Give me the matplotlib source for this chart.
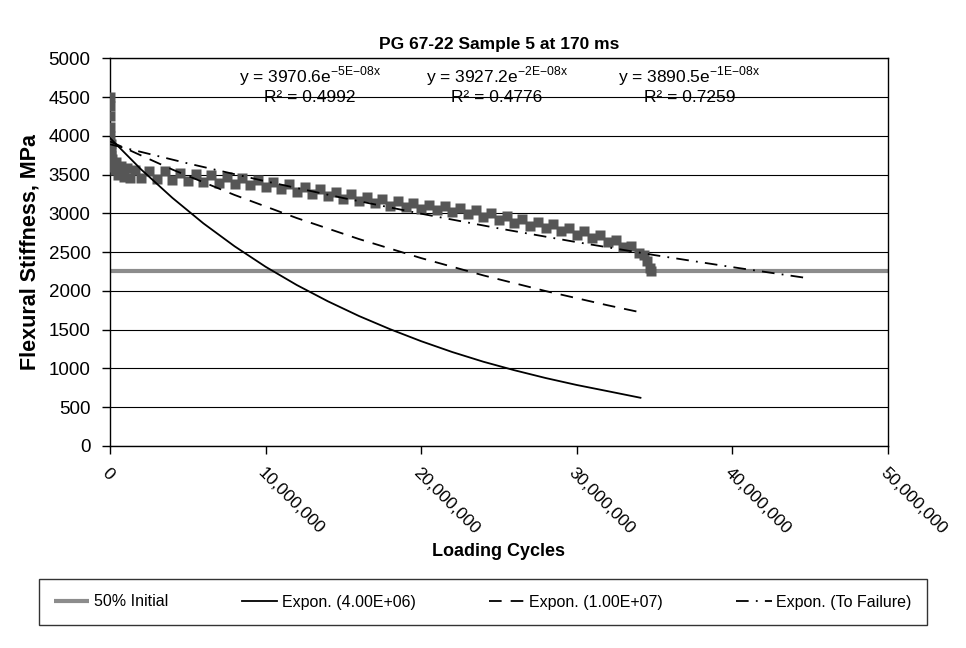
import matplotlib
matplotlib.use("Agg")
import matplotlib.pyplot as plt
from matplotlib.ticker import FuncFormatter

# measured stiffness (cycles in millions, MPa)
cycles_m = [0.0, 0.0, 0.0, 0.01, 0.02, 0.03, 0.05, 0.07, 0.1, 0.15, 0.2, 0.3, 0.4, 0.5,
            0.7, 0.9, 1.1, 1.3, 1.6, 2.0, 2.5, 3.0, 3.5, 4.0, 4.5, 5.0, 5.5, 6.0, 6.5,
            7.0, 7.5, 8.0, 8.5, 9.0, 9.5, 10.0, 10.5, 11.0, 11.5, 12.0, 12.5, 13.0,
            13.5, 14.0, 14.5, 15.0, 15.5, 16.0, 16.5, 17.0, 17.5, 18.0, 18.5, 19.0,
            19.5, 20.0, 20.5, 21.0, 21.5, 22.0, 22.5, 23.0, 23.5, 24.0, 24.5, 25.0,
            25.5, 26.0, 26.5, 27.0, 27.5, 28.0, 28.5, 29.0, 29.5, 30.0, 30.5, 31.0,
            31.5, 32.0, 32.5, 33.0, 33.5, 34.0, 34.3, 34.5, 34.7, 34.8]
stiffness = [4500, 4380, 4250, 4120, 4000, 3900, 3820, 3750, 3700, 3640, 3600, 3560, 3660,
             3500, 3610, 3470, 3580, 3460, 3560, 3450, 3550, 3440, 3540, 3430, 3520,
             3420, 3510, 3410, 3490, 3390, 3470, 3380, 3460, 3360, 3430, 3340, 3400,
             3310, 3380, 3280, 3340, 3250, 3310, 3220, 3280, 3190, 3250, 3160, 3210,
             3130, 3180, 3100, 3160, 3080, 3130, 3060, 3110, 3040, 3090, 3020, 3070,
             2990, 3040, 2950, 3000, 2910, 2970, 2870, 2930, 2840, 2890, 2810, 2860,
             2770, 2810, 2720, 2770, 2680, 2720, 2630, 2660, 2560, 2580, 2490, 2460,
             2380, 2300, 2250]

# 50% of initial stiffness
half_initial = 2250
half_x = [0, 50]

# exponential trendlines
fit4_x = [0, 2, 4, 6, 8, 10, 12, 14, 16, 18, 20, 22, 24, 26, 28, 30, 32, 34.1]
fit4_y = [3970, 3565, 3200, 2870, 2575, 2310, 2075, 1865, 1675, 1505, 1350, 1210,
          1085, 975, 875, 785, 705, 620]
fit10_x = [0, 4, 8, 12, 16, 20, 24, 28, 32, 34.0]
fit10_y = [3927, 3565, 3237, 2939, 2668, 2422, 2199, 1997, 1813, 1727]
fitfail_x = [0, 5, 10, 15, 20, 25, 30, 35, 40, 44.8]
fitfail_y = [3890, 3644, 3413, 3197, 2995, 2805, 2628, 2461, 2306, 2165]

equations = ["y = 3970.6e$^{\\mathregular{{-}5E{-}08x}}$",
             "y = 3927.2e$^{\\mathregular{{-}2E{-}08x}}$",
             "y = 3890.5e$^{\\mathregular{{-}1E{-}08x}}$"]
r_squared = ["R\u00b2 = 0.4992", "R\u00b2 = 0.4776", "R\u00b2 = 0.7259"]

plt.rcParams['font.family'] = ['Liberation Sans', 'DejaVu Sans']
plt.rcParams['mathtext.fontset'] = 'custom'
plt.rcParams['mathtext.rm'] = 'Liberation Sans'
plt.rcParams['axes.unicode_minus'] = False

fig = plt.figure(figsize=(9.66, 6.48), dpi=100)
ax = fig.add_axes([0.114, 0.312, 0.805, 0.598])

m = 1e6
ax.plot([v * m for v in half_x], [half_initial] * 2, color='#8c8c8c', lw=3,
        label='50% Initial', zorder=2, solid_capstyle='butt')
ax.plot([v * m for v in cycles_m], stiffness, 's', color='#565656', ms=7.5,
        mec='none', zorder=3)
ax.plot([v * m for v in fit4_x], fit4_y, color='black', lw=1.3,
        label='Expon. (4.00E+06)', zorder=4)
ax.plot([v * m for v in fit10_x], fit10_y, color='black', lw=1.3,
        ls=(0, (7, 5)), label='Expon. (1.00E+07)', zorder=4)
ax.plot([v * m for v in fitfail_x], fitfail_y, color='black', lw=1.3,
        ls=(0, (7, 4, 1, 4)), label='Expon. (To Failure)', zorder=4)

ax.set_xlim(0, 50e6)
ax.set_ylim(0, 5000)
ax.set_yticks(range(0, 5001, 500))
ax.set_xticks([0, 10e6, 20e6, 30e6, 40e6, 50e6])
ax.xaxis.set_major_formatter(FuncFormatter(lambda v, p: f"{int(v):,}"))
ax.yaxis.grid(True, color='black', lw=0.8)
ax.set_axisbelow(True)
for s in ax.spines.values():
    s.set_color('black')
    s.set_linewidth(1)
ax.tick_params(axis='both', direction='out', length=6, width=1, labelsize=13.5)
ax.tick_params(axis='y', pad=8)
ax.tick_params(axis='x', pad=8, labelsize=12.5)
for lbl in ax.get_xticklabels():
    lbl.set_rotation(-45)
    lbl.set_ha('left')
    lbl.set_va('top')
    lbl.set_rotation_mode('anchor')

ax.set_title('PG 67-22 Sample 5 at 170 ms', fontsize=12.5, fontweight='bold', pad=7)
ax.set_ylabel('Flexural Stiffness, MPa', fontsize=15.5, fontweight='bold', labelpad=6)
ax.set_xlabel('Loading Cycles', fontsize=13, fontweight='bold', labelpad=4)

for xpos, eq, r2 in zip([0.257, 0.497, 0.745], equations, r_squared):
    ax.text(xpos, 0.955, eq, transform=ax.transAxes, ha='center', va='center', fontsize=12.5)
    ax.text(xpos, 0.899, r2, transform=ax.transAxes, ha='center', va='center', fontsize=12.5)

leg = fig.legend(loc='center', ncol=4, fontsize=11.5,
                 bbox_to_anchor=(0.5, 1 - 602 / 648),
                 bbox_transform=fig.transFigure, fancybox=False, frameon=True,
                 borderaxespad=0, borderpad=0.95, handlelength=2.2, handletextpad=0.3,
                 columnspacing=4.6)
leg.get_frame().set_edgecolor('black')
leg.get_frame().set_linewidth(1)

fig.savefig('out.png', dpi=100)
